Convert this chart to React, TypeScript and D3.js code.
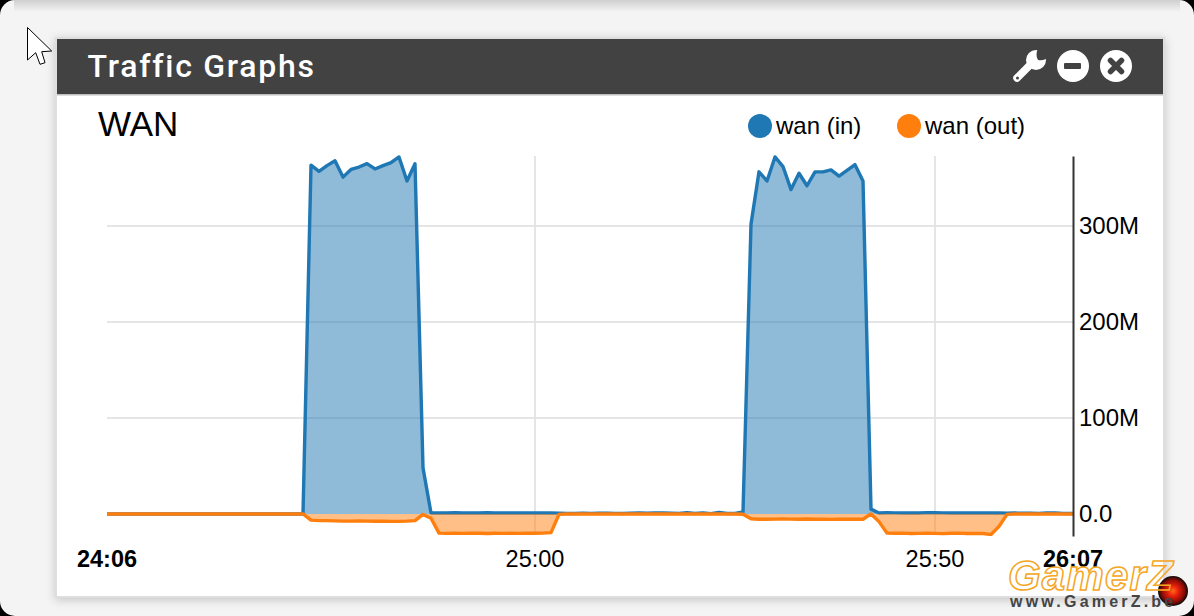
import { useEffect, useRef } from "react";
import * as d3 from "d3";

const width = 1194;
const height = 616;

const title = "Traffic Graphs";
const subTitle = "WAN";
const legendLabels = ["wan (in)", "wan (out)"];
const seriesColors = ["#1f77b4", "#ff7f0e"];

// seconds after 24:00, one sample per second
const seconds = d3.range(6, 129);

const wanIn = [
  0, 0, 0, 0, 0, 0, 0, 0, 0, 0, 0, 0, 0, 0, 0, 0, 0, 0, 0, 0, 0, 0, 0, 0, 0, 0,
  363.5, 357, 363, 368, 351, 359, 361.5, 365, 359.5, 363, 366, 372, 347, 365, 48,
  1, 1, 1, 1.2, 1, 1, 1, 1.2, 1, 1, 1, 1, 1, 1, 1, 1, 0.8, 0.5, 0.5, 0.7, 0.6, 0.8, 0.8, 0.6, 0.5,
  0.8, 0.9, 0.8, 0.9, 0.9, 0.7, 0.6, 1.2, 0.4, 1.1, 0.3, 1.6, 0.4, 0.5, 2,
  302, 356.5, 347, 372, 362, 338, 355, 342, 356.5, 356.5, 358.5, 352, 358, 364, 347,
  5, 1, 1.2, 1.1, 1, 1, 1, 1.4, 1.2, 1.1, 1, 1, 1, 1, 1, 1, 1, 0.8, 0.9, 0.8, 0.7, 0.5, 0.9, 0.9, 0.5, 0.5, 0.5,
];

const wanOut = [
  0, 0, 0, 0, 0, 0, 0, 0, 0, 0, 0, 0, 0, 0, 0, 0, 0, 0, 0, 0, 0, 0, 0, 0, 0, 0,
  -6.5, -7, -7, -7.2, -7.5, -7.5, -7.3, -7.5, -7.6, -7.5, -7.8, -7.8, -7.5, -7, -0.5,
  -4.5, -20, -20.3, -20, -20.3, -20, -20.2, -20.4, -20.1, -20.3, -20.2, -20.3, -20.2, -20.2, -20, -19.5, -0.5,
  0, 0, 0, 0, 0, 0, 0, 0, 0, 0, 0, 0, 0, 0, 0, 0, 0, 0, 0, 0, 0, 0, -0.3,
  -5, -5.5, -5.5, -5.4, -5.3, -5.4, -5.5, -5.3, -5.5, -5.5, -5.7, -5.6, -5.6, -5.5, -5.5, 0,
  -8, -20, -20.2, -20, -20.4, -20.3, -20.1, -20.3, -20.5, -20.2, -20, -20.4, -20.3, -20.4, -21.5, -13, -0.5,
  0, 0, 0, 0, 0, 0, 0, 0, 0,
];

const yDomain = [-23, 373];
const timeDomain = [6.5, 127.25];
const yTicks = [0, 100, 200, 300];
const yTickLabels = ["0.0", "100M", "200M", "300M"];
const timeTicks = [6.5, 60, 110, 127.25];
const timeTickLabels = ["24:06", "25:00", "25:50", "26:07"];

const sans = "'Liberation Sans', Arial, sans-serif";

export default function App() {
  const svgRef = useRef<SVGSVGElement | null>(null);

  useEffect(() => {
    const svg = d3.select(svgRef.current);
    svg.selectAll("*").remove();

    const defs = svg.append("defs");
    const topShade = defs.append("linearGradient").attr("id", "topShade")
      .attr("x1", 0).attr("y1", 0).attr("x2", 0).attr("y2", 1);
    topShade.append("stop").attr("offset", "0%").attr("stop-color", "#cfcfcf");
    topShade.append("stop").attr("offset", "100%").attr("stop-color", "#f4f4f4");

    const ball = defs.append("radialGradient").attr("id", "ball")
      .attr("cx", "50%").attr("cy", "50%").attr("r", "50%");
    ball.append("stop").attr("offset", "0%").attr("stop-color", "#ff6a1a");
    ball.append("stop").attr("offset", "35%").attr("stop-color", "#e8200c");
    ball.append("stop").attr("offset", "75%").attr("stop-color", "#8a0c06");
    ball.append("stop").attr("offset", "100%").attr("stop-color", "#0a0a0a");

    const shadow = defs.append("filter").attr("id", "cardShadow")
      .attr("x", "-5%").attr("y", "-5%").attr("width", "110%").attr("height", "110%");
    shadow.append("feDropShadow").attr("dx", 0).attr("dy", 2).attr("stdDeviation", 5)
      .attr("flood-color", "#000").attr("flood-opacity", 0.2);

    defs.append("clipPath").attr("id", "plotClip").append("rect")
      .attr("x", 107).attr("y", 154).attr("width", 966).attr("height", 382);

    // page behind the card
    svg.append("rect").attr("width", width).attr("height", height).attr("fill", "#000");
    svg.append("rect").attr("width", width).attr("height", height).attr("rx", 15).attr("fill", "#f4f4f4");
    svg.append("rect").attr("x", 14).attr("width", width - 28).attr("height", 12).attr("fill", "url(#topShade)");

    // card
    svg.append("rect")
      .attr("x", 56).attr("y", 38).attr("width", 1108).attr("height", 559)
      .attr("fill", "#fff").attr("stroke", "#dedede").attr("stroke-width", 2)
      .attr("filter", "url(#cardShadow)");
    svg.append("rect")
      .attr("x", 57).attr("y", 39).attr("width", 1106).attr("height", 55.5)
      .attr("fill", "#424242");
    svg.append("rect")
      .attr("x", 57).attr("y", 94.5).attr("width", 1106).attr("height", 1.5)
      .attr("fill", "#dedede");

    svg.append("text")
      .attr("x", 87.5).attr("y", 77)
      .style("font-family", "Roboto, sans-serif").style("font-weight", 500)
      .style("font-size", "32px").style("letter-spacing", "1.75px")
      .attr("fill", "#fff").text(title);

    // header icons
    const icons = svg.append("g");
    icons.append("line").attr("x1", 1017).attr("y1", 78).attr("x2", 1033).attr("y2", 62)
      .attr("stroke", "#fff").attr("stroke-width", 7.5).attr("stroke-linecap", "round");
    icons.append("circle").attr("cx", 1036).attr("cy", 60).attr("r", 10).attr("fill", "#fff");
    icons.append("path").attr("d", "M1038,60 C1036,57 1036,53 1038,48 L1050,48 L1050,55 C1046,60 1042,61 1038,60 Z").attr("fill", "#424242");
    icons.append("circle").attr("cx", 1017.5).attr("cy", 78).attr("r", 1.5).attr("fill", "#424242");
    icons.append("circle").attr("cx", 1073).attr("cy", 66).attr("r", 16).attr("fill", "#fff");
    icons.append("rect").attr("x", 1064).attr("y", 63).attr("width", 17).attr("height", 6).attr("rx", 1).attr("fill", "#424242");
    icons.append("circle").attr("cx", 1116).attr("cy", 66).attr("r", 16).attr("fill", "#fff");
    icons.append("path").attr("d", "M1110.5,60.5 L1121.5,71.5 M1121.5,60.5 L1110.5,71.5")
      .attr("stroke", "#424242").attr("stroke-width", 5.5).attr("stroke-linecap", "round");

    svg.append("text")
      .attr("x", 98).attr("y", 136)
      .style("font-family", sans).style("font-size", "35px")
      .attr("fill", "#000").text(subTitle);

    // legend
    const legendX = [760, 909];
    legendLabels.forEach((label, i) => {
      svg.append("circle").attr("cx", legendX[i]).attr("cy", 126).attr("r", 12).attr("fill", seriesColors[i]);
      svg.append("text")
        .attr("x", legendX[i] + 16).attr("y", 134)
        .style("font-family", sans).style("font-size", "24px")
        .attr("fill", "#000").text(label);
    });

    const xScale = d3.scaleLinear().domain(timeDomain).range([107, 1073]);
    const yScale = d3.scaleLinear().domain(yDomain).range([536, 156]);

    // grid
    const grid = svg.append("g").attr("stroke", "#e5e5e5").attr("stroke-width", 2);
    yTicks.filter((d) => d > 0).forEach((d) => {
      grid.append("line").attr("x1", 107).attr("x2", 1073).attr("y1", yScale(d)).attr("y2", yScale(d));
    });
    timeTicks.slice(1, 3).forEach((d) => {
      grid.append("line").attr("x1", xScale(d)).attr("x2", xScale(d)).attr("y1", 156).attr("y2", 533);
    });

    const plot = svg.append("g").attr("clip-path", "url(#plotClip)");
    [wanIn, wanOut].forEach((values, i) => {
      const points: [number, number][] = seconds.map((s, j) => [s, values[j]]);
      const area = d3.area<[number, number]>()
        .x((d) => xScale(d[0]))
        .y0(yScale(0))
        .y1((d) => yScale(d[1]));
      const line = d3.line<[number, number]>()
        .x((d) => xScale(d[0]))
        .y((d) => yScale(d[1]));
      plot.append("path").attr("d", area(points)).attr("fill", seriesColors[i]).attr("fill-opacity", 0.5);
      plot.append("path").attr("d", line(points)).attr("fill", "none")
        .attr("stroke", seriesColors[i]).attr("stroke-width", 3.4).attr("stroke-linejoin", "round");
    });

    // axes
    const yAxis = svg.append("g")
      .attr("transform", "translate(1073,0)")
      .call(d3.axisRight(yScale).tickValues(yTicks).tickSize(0).tickPadding(6)
        .tickFormat((d, i) => yTickLabels[i]));
    yAxis.select(".domain").attr("stroke", "#333").attr("stroke-width", 2);
    yAxis.selectAll("text")
      .style("font-family", sans).style("font-size", "24px").attr("fill", "#000").attr("dy", "0.33em");

    const xAxis = svg.append("g")
      .attr("transform", "translate(-0.5,536)")
      .call(d3.axisBottom(xScale).tickValues(timeTicks).tickSize(0).tickPadding(14)
        .tickFormat((d, i) => timeTickLabels[i]));
    xAxis.select(".domain").remove();
    xAxis.selectAll("text")
      .style("font-family", sans).style("font-size", "23.5px").attr("fill", "#000")
      .style("font-weight", (d, i) => (i === 0 || i === 3 ? "bold" : "normal"))
      .attr("dy", "0.71em");

    // mouse pointer
    svg.append("path")
      .attr("d", "M27.5,27.5 L27.5,60 L35.7,52.7 L40,64.3 L45,62.7 L41.7,51.7 L51.7,51 Z")
      .attr("fill", "#fff").attr("stroke", "#000").attr("stroke-width", 1);

    // watermark
    svg.append("circle").attr("cx", 1173).attr("cy", 591).attr("r", 15).attr("fill", "url(#ball)");
    svg.append("text")
      .attr("x", 1008).attr("y", 590)
      .style("font-family", sans).style("font-size", "42px")
      .style("font-weight", "bold").style("font-style", "italic").style("letter-spacing", "1.2px")
      .attr("fill", "none").attr("stroke", "#f5a623").attr("stroke-width", 1.5)
      .text("GamerZ");
    svg.append("text")
      .attr("x", 1010).attr("y", 607)
      .style("font-family", sans).style("font-size", "16px")
      .style("font-weight", "bold").style("letter-spacing", "3.2px")
      .attr("fill", "#444")
      .text("www.GamerZ.be");
  }, []);

  return (
    <svg
      ref={svgRef}
      width={width}
      height={height}
      viewBox={`0 0 ${width} ${height}`}
      style={{ position: "absolute", left: 0, top: 0, display: "block" }}
    />
  );
}
